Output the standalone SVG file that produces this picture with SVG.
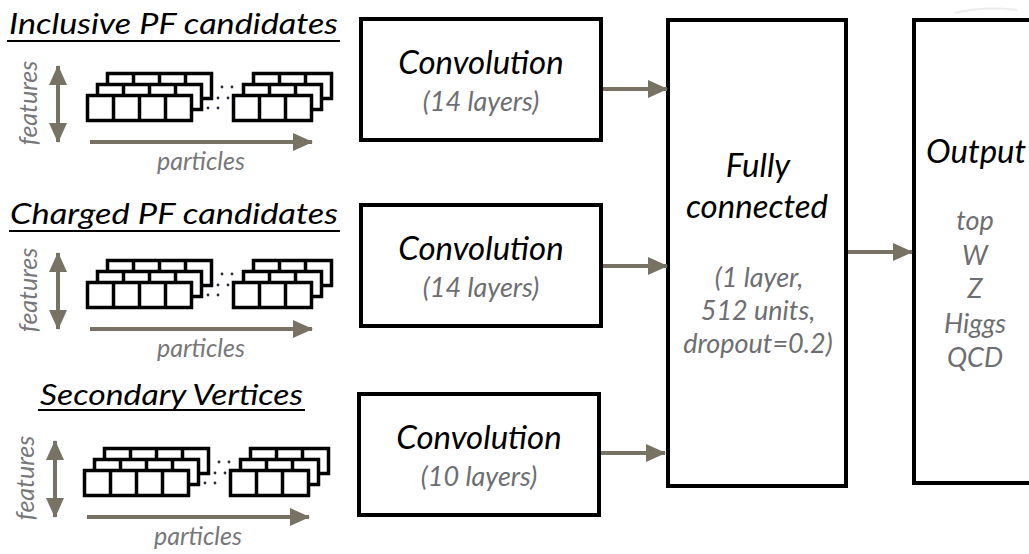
<svg xmlns="http://www.w3.org/2000/svg" width="1029" height="554" viewBox="0 0 1029 554">
<style>
.box{fill:#fff;stroke:#000;stroke-width:4}
.cell{fill:#fff;stroke:#000;stroke-width:3.5}
.div{stroke:#000;stroke-width:3.5}
.dot{fill:#2a2a3a}
.arr{stroke:#777263;stroke-width:4;fill:none}
.t{font-family:Lato,"Open Sans","Liberation Sans",sans-serif;font-style:italic}
.title{font-size:28px;fill:#000}
.main{font-size:33px;fill:#000}
.sub{font-size:27px;fill:#6d6e72}
.ax{font-size:25px;fill:#77777a}
.ul{stroke:#000;stroke-width:2}
</style>
<defs>
<marker id="ah" markerUnits="userSpaceOnUse" viewBox="0 0 20 18" refX="19" refY="9" markerWidth="20" markerHeight="18" orient="auto-start-reverse">
<path d="M0,0 L20,9 L0,18 z" fill="#777263"/>
</marker>
<g id="row4">
<rect class="cell" x="87.5" y="95.5" width="104" height="25"/>
<line class="div" x1="113.5" y1="95.5" x2="113.5" y2="120.5"/>
<line class="div" x1="139.5" y1="95.5" x2="139.5" y2="120.5"/>
<line class="div" x1="165.5" y1="95.5" x2="165.5" y2="120.5"/>
</g>
<g id="row3">
<rect class="cell" x="233.5" y="95.5" width="78" height="25"/>
<line class="div" x1="259.5" y1="95.5" x2="259.5" y2="120.5"/>
<line class="div" x1="285.5" y1="95.5" x2="285.5" y2="120.5"/>
</g>
<g id="tensor">
<use href="#row4" transform="translate(20,-22)"/>
<use href="#row4" transform="translate(10,-11)"/>
<use href="#row4"/>
<use href="#row3" transform="translate(20,-22)"/>
<use href="#row3" transform="translate(10,-11)"/>
<use href="#row3"/>
<circle class="dot" cx="222" cy="87" r="1.4"/>
<circle class="dot" cx="232" cy="87" r="1.4"/>
<circle class="dot" cx="218" cy="98" r="1.4"/>
<circle class="dot" cx="228" cy="98" r="1.4"/>
<circle class="dot" cx="208" cy="108" r="1.4"/>
<circle class="dot" cx="218" cy="108" r="1.4"/>
<line class="arr" x1="58" y1="66" x2="58" y2="142" marker-start="url(#ah)" marker-end="url(#ah)"/>
<line class="arr" x1="90" y1="142" x2="312" y2="142" marker-end="url(#ah)"/>
<text class="t ax" x="201" y="170" text-anchor="middle">particles</text>
<text class="t ax" transform="translate(37,103) rotate(-90)" text-anchor="middle">features</text>
</g>
</defs>

<g id="input-inclusive">
<text class="t title" x="9" y="34" textLength="329" lengthAdjust="spacingAndGlyphs">Inclusive PF candidates</text>
<line class="ul" x1="7" y1="41" x2="340" y2="41"/>
<use href="#tensor"/>
</g>

<g id="input-charged">
<text class="t title" x="10" y="224" textLength="328" lengthAdjust="spacingAndGlyphs">Charged PF candidates</text>
<line class="ul" x1="9" y1="231" x2="340" y2="231"/>
<use href="#tensor" transform="translate(0,187)"/>
</g>

<g id="input-sv">
<text class="t title" x="40" y="405" textLength="263" lengthAdjust="spacingAndGlyphs">Secondary Vertices</text>
<line class="ul" x1="38" y1="410" x2="305" y2="410"/>
<use href="#tensor" transform="translate(-3,375)"/>
</g>

<g id="conv1">
<rect class="box" x="361" y="19" width="240" height="121"/>
<text class="t main" x="481" y="74" text-anchor="middle">Convolution</text>
<text class="t sub" x="481" y="111" text-anchor="middle">(14 layers)</text>
</g>

<g id="conv2">
<rect class="box" x="361" y="205" width="240" height="121"/>
<text class="t main" x="481" y="260" text-anchor="middle">Convolution</text>
<text class="t sub" x="481" y="297" text-anchor="middle">(14 layers)</text>
</g>

<g id="conv3">
<rect class="box" x="359" y="394" width="240" height="121"/>
<text class="t main" x="479" y="449" text-anchor="middle">Convolution</text>
<text class="t sub" x="479" y="486" text-anchor="middle">(10 layers)</text>
</g>

<g id="fc">
<rect class="box" x="668" y="20" width="178" height="466"/>
<text class="t main" x="758" y="177" text-anchor="middle">Fully</text>
<text class="t main" x="757" y="218" text-anchor="middle">connected</text>
<text class="t sub" x="759" y="287" text-anchor="middle">(1 layer,</text>
<text class="t sub" x="758" y="320" text-anchor="middle">512 units,</text>
<text class="t sub" x="758" y="353" text-anchor="middle">dropout=0.2)</text>
</g>

<g id="output">
<rect class="box" x="914" y="20" width="130" height="463"/>
<text class="t main" x="926" y="163">Output</text>
<text class="t sub" x="975" y="230" text-anchor="middle">top</text>
<text class="t sub" x="975" y="265" text-anchor="middle">W</text>
<text class="t sub" x="975" y="298" text-anchor="middle">Z</text>
<text class="t sub" x="975" y="333" text-anchor="middle">Higgs</text>
<text class="t sub" x="975" y="367" text-anchor="middle">QCD</text>
</g>

<g id="connectors">
<line class="arr" x1="603" y1="89" x2="667" y2="89" marker-end="url(#ah)"/>
<line class="arr" x1="603" y1="266" x2="667" y2="266" marker-end="url(#ah)"/>
<line class="arr" x1="601" y1="453" x2="665" y2="453" marker-end="url(#ah)"/>
<line class="arr" x1="848" y1="252" x2="912" y2="252" marker-end="url(#ah)"/>
</g>
<path d="M955,13 Q985,6 1017,10" fill="none" stroke="#ececec" stroke-width="2"/>
</svg>
